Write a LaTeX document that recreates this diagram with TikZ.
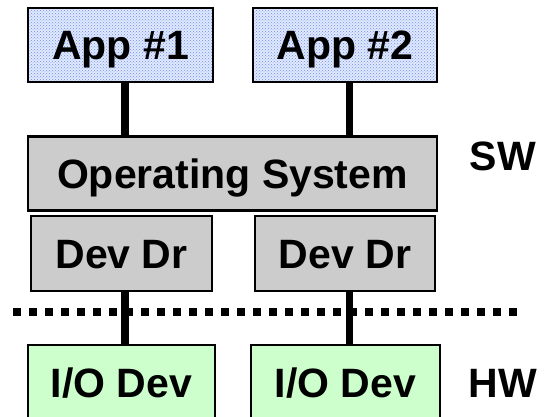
\documentclass[tikz,border=0pt]{standalone}
\usepackage{fontspec}
\setmainfont{Liberation Sans}
\usetikzlibrary{patterns}

\definecolor{osgray}{RGB}{204,204,204}
\definecolor{iogreen}{RGB}{204,255,204}
\definecolor{appblue}{RGB}{226,233,252}
\definecolor{dotblue}{RGB}{105,145,240}

\tikzset{
  layer/.style={draw=black, line width=2.2pt, inner sep=0pt,
    font=\fontsize{41}{49}\selectfont\bfseries,
    text height=29.4pt, text depth=0pt},
  appbox/.style={layer, preaction={fill=appblue}, pattern=crosshatch dots,
    pattern color=dotblue, minimum height=74pt},
  osbox/.style={layer, fill=osgray, minimum height=74pt},
  drvbox/.style={layer, fill=osgray, minimum height=75pt},
  devbox/.style={layer, fill=iogreen, minimum height=76pt},
  side/.style={font=\fontsize{41}{49}\selectfont\bfseries,
    text height=29.4pt, text depth=0pt, inner sep=0pt},
  link/.style={line width=7.5pt},
  sepline/.style={line width=7.5pt, dash pattern=on 7.5pt off 8.5pt}
}

\begin{document}
\begin{tikzpicture}[x=1pt, y=-1pt]
  \useasboundingbox (0,0) rectangle (554,417);

  % software side
  \node[appbox, minimum width=185pt] (app1) at (120.5,45) {App \#1};
  \node[appbox, minimum width=184pt] (app2) at (345,45) {App \#2};
  \node[osbox, minimum width=409pt] (os) at (232.5,173.5) {Operating System};
  \node[drvbox, minimum width=181pt] (drv1) at (121.5,253.5) {Dev Dr};
  \node[drvbox, minimum width=180pt] (drv2) at (345,253.5) {Dev Dr};

  % hardware side
  \node[devbox, minimum width=187pt] (dev1) at (121.5,383) {I/O Dev};
  \node[devbox, minimum width=189pt] (dev2) at (345.5,383) {I/O Dev};

  \node[side] (sw) at (503,156) {SW};
  \node[side] (hw) at (503,383) {HW};

  % sw/hw boundary
  \draw[sepline] (13,312) -- (518,312);

  % connections
  \coordinate (c1) at (125,0);
  \coordinate (c2) at (349.5,0);
  \draw[link] (app1.south -| c1) -- (os.north -| c1);
  \draw[link] (app2.south -| c2) -- (os.north -| c2);
  \draw[link] (drv1.south -| c1) -- (dev1.north -| c1);
  \draw[link] (drv2.south -| c2) -- (dev2.north -| c2);
\end{tikzpicture}
\end{document}
